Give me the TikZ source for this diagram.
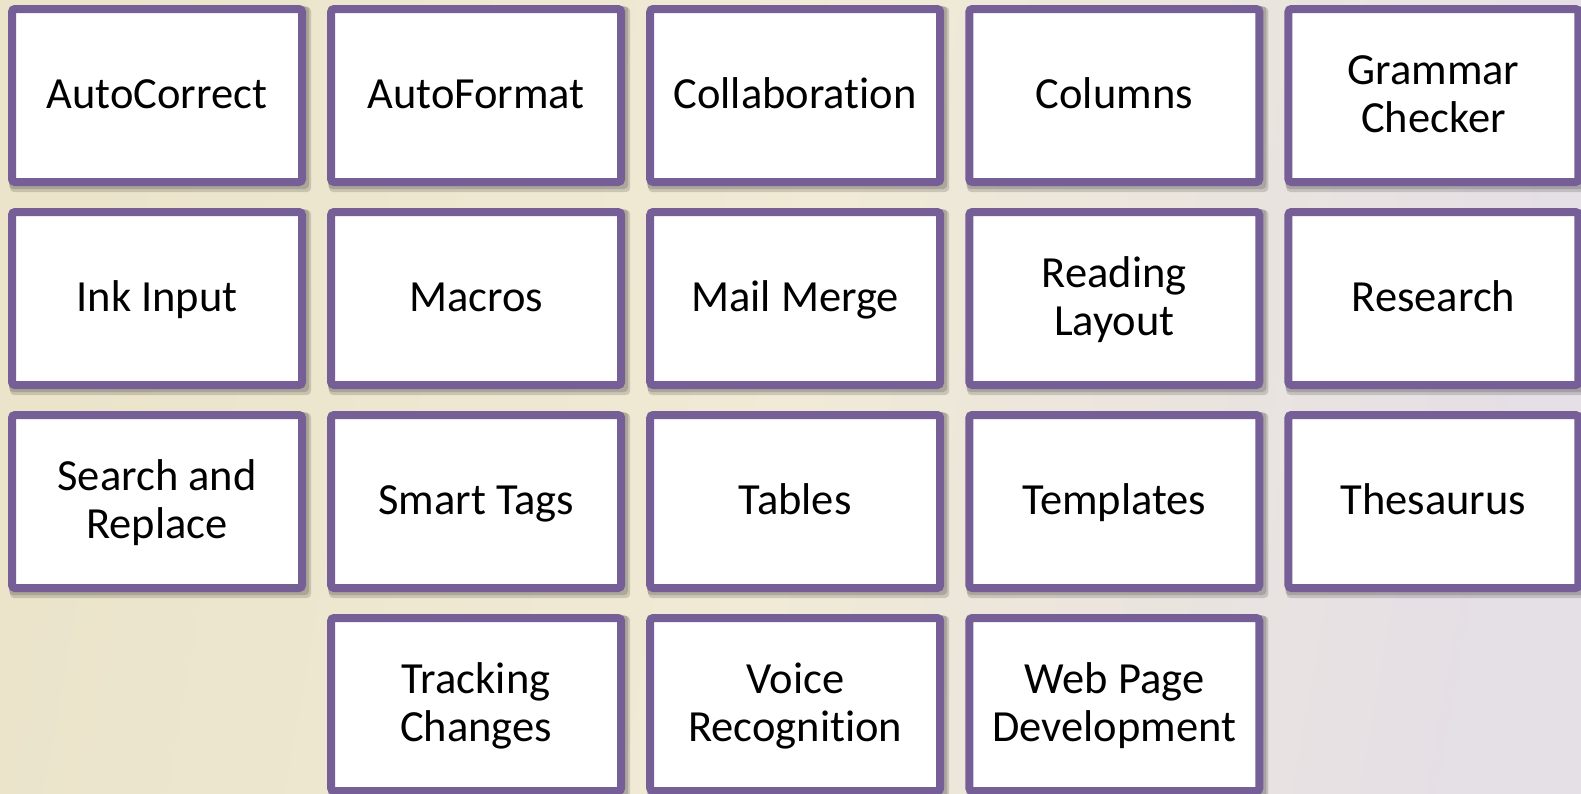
\documentclass[tikz,border=0pt]{standalone}
\usepackage{fontspec}
\setmainfont{Carlito}[Ligatures=NoCommon]
\definecolor{boxpurple}{HTML}{765E96}
\definecolor{bgleft}{HTML}{EBE4CB}
\definecolor{bgmid}{HTML}{F0EAD6}
\definecolor{bgright}{HTML}{E5DFE6}
\newcommand{\tstrut}{\rule[-10pt]{0pt}{45.6pt}}
\tikzset{
  tile/.style={draw=boxpurple, line width=8pt, fill=white, rounded corners=3pt,
    minimum width=290pt, minimum height=173pt, inner sep=0pt},
  tilelabel/.style={align=center, inner sep=0pt,
    font=\fontsize{44.5}{48}\selectfont, text=black},
  tileshadow/.style={fill=black, fill opacity=0.15, rounded corners=4pt}
}
\newcommand{\tileat}[4]{%
  % #1 name, #2 column, #3 row, #4 text
  \pgfmathsetmacro{\tx}{8+319.1*#2+149}
  \pgfmathsetmacro{\ty}{-(5+203*#3+90.5)}
  \fill[tileshadow] (\tx-149+2,\ty-90.5-6) rectangle (\tx+149+5,\ty+90.5-2);
  \fill[tileshadow] (\tx-149+1,\ty-90.5-3) rectangle (\tx+149+3,\ty+90.5-1);
  \node[tile] (#1) at (\tx,\ty) {};
  \node[tilelabel] (#1-label) at (#1.center) {#4};
}
\begin{document}
\begin{tikzpicture}[x=1pt,y=1pt]
\useasboundingbox (0,0) rectangle (1581,-793);
\clip (0,0) rectangle (1581,-793);
\shade[left color=bgleft, right color=bgright, middle color=bgmid, shading angle=80] (0,0) rectangle (1581,-793);
\tileat{autocorrect}{0}{0}{\tstrut AutoCorrect}
\tileat{autoformat}{1}{0}{\tstrut AutoFormat}
\tileat{collaboration}{2}{0}{\tstrut Collaboration}
\tileat{columns}{3}{0}{\tstrut Columns}
\tileat{grammar}{4}{0}{\tstrut Grammar\\\tstrut Checker}
\tileat{ink}{0}{1}{\tstrut Ink Input}
\tileat{macros}{1}{1}{\tstrut Macros}
\tileat{mailmerge}{2}{1}{\tstrut Mail Merge}
\tileat{reading}{3}{1}{\tstrut Reading\\\tstrut Layout}
\tileat{research}{4}{1}{\tstrut Research}
\tileat{search}{0}{2}{\tstrut Search and\\\tstrut Replace}
\tileat{smarttags}{1}{2}{\tstrut Smart Tags}
\tileat{tables}{2}{2}{\tstrut Tables}
\tileat{templates}{3}{2}{\tstrut Templates}
\tileat{thesaurus}{4}{2}{\tstrut Thesaurus}
\tileat{tracking}{1}{3}{\tstrut Tracking\\\tstrut Changes}
\tileat{voice}{2}{3}{\tstrut Voice\\\tstrut Recognition}
\tileat{webpage}{3}{3}{\tstrut Web Page\\\tstrut Development}
\end{tikzpicture}
\end{document}
